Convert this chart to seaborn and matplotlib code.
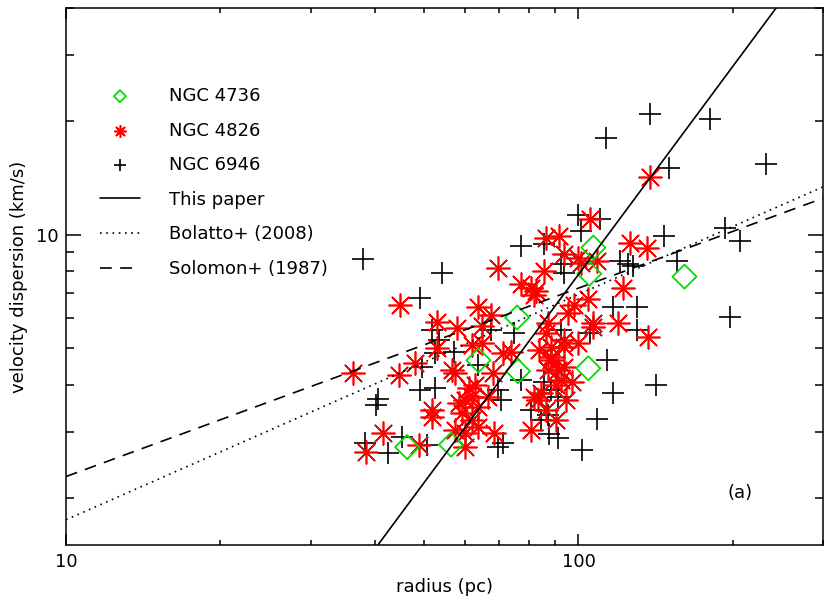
import matplotlib
matplotlib.use('Agg')
import matplotlib.pyplot as plt
import matplotlib.ticker as mticker
import seaborn as sns

# NGC 4736 (green diamonds)
n4736_r = [46.3, 56.4, 63.8, 75.9, 76.2, 104.5, 106.9, 105.0, 161.0]
n4736_s = [2.73, 2.77, 4.64, 6.03, 4.34, 4.42, 9.24, 7.88, 7.74]

# NGC 4826 (red asterisks)
n4826_r = [36.3, 38.5, 41.5, 44.9, 44.7, 48.0, 53.0, 53.0, 57.9, 63.8,
           67.6, 64.7, 61.9, 69.8, 80.8, 82.6, 93.6, 85.5, 56.6, 57.4,
           64.7, 71.3, 61.1, 62.7, 61.9, 51.8, 51.8, 48.9, 60.0, 68.5,
           80.8, 84.5, 87.1, 93.6, 88.3, 93.6, 99.6, 105.4, 86.3, 91.5,
           101.0, 108.9, 125.9, 135.9, 77.3, 81.9, 122.1, 104.5, 97.8, 106.9,
           95.2, 119.4, 137.6, 136.5, 68.2, 86.3, 83.7, 88.3, 87.1, 91.1,
           92.3, 81.9, 83.4, 97.3, 99.6, 106.9, 73.9, 88.3, 93.6, 60.0,
           59.2, 61.9, 63.8, 60.0, 57.4, 58.4, 63.8, 66.7, 90.3, 94.4,
           86.3, 90.3]
n4826_s = [4.29, 2.65, 2.98, 6.49, 4.24, 4.56, 5.85, 4.99, 5.64, 6.41,
           6.11, 5.74, 5.09, 8.18, 7.24, 7.11, 8.91, 8.03, 4.37, 4.29,
           5.15, 4.84, 3.92, 3.99, 3.71, 3.28, 3.42, 2.77, 2.73, 2.98,
           3.03, 3.80, 5.82, 5.25, 4.73, 4.45, 8.69, 11.0, 9.82, 9.94,
           8.43, 8.53, 9.52, 9.24, 7.42, 6.90, 7.24, 6.77, 6.49, 5.82,
           6.18, 5.82, 14.2, 5.34, 4.29, 5.47, 4.93, 4.64, 4.37, 4.37,
           4.11, 3.71, 3.64, 4.06, 5.15, 5.68, 4.87, 5.02, 5.02, 3.64,
           3.36, 3.22, 3.09, 2.98, 3.03, 3.57, 3.49, 3.71, 3.99, 3.64,
           3.42, 3.22]

# NGC 6946 (black plus)
n6946_r = [37.9, 54.2, 49.1, 138.2, 113.2, 180.6, 231.7, 149.9, 193.0, 207.0,
           197.4, 146.6, 99.6, 110.2, 120.4, 127.6, 116.9, 129.9, 101.4, 116.9,
           108.9, 91.1, 113.8, 141.4, 40.2, 40.6, 38.3, 42.4, 50.7, 49.1,
           52.5, 49.5, 52.5, 53.5, 51.8, 77.3, 85.5, 93.6, 57.1, 69.8,
           45.3, 69.8, 71.3, 101.0, 92.3, 124.9, 70.7, 87.1, 91.1, 74.9,
           67.6, 92.3, 105.4, 129.9, 85.5, 88.3, 156.0, 80.8, 84.5, 77.3,
           87.5, 63.8]
n6946_s = [8.64, 7.93, 6.81, 20.9, 18.1, 20.3, 15.4, 15.0, 10.4, 9.64,
           6.03, 9.94, 11.3, 11.0, 8.53, 8.28, 6.41, 6.41, 2.68, 3.80,
           3.24, 2.88, 4.64, 3.99, 3.53, 3.66, 2.80, 2.64, 2.77, 3.87,
           3.92, 4.45, 4.84, 5.25, 5.57, 9.35, 9.47, 7.93, 4.87, 3.87,
           2.90, 2.73, 2.80, 10.2, 8.38, 8.38, 3.64, 3.32, 3.71, 5.47,
           5.57, 5.57, 5.47, 5.57, 4.06, 3.87, 8.53, 3.42, 3.22, 4.11,
           2.95, 4.50]

# size-linewidth relations (end points)
this_r = [40.6, 243.0]
this_s = [1.5, 40.0]
bolatto_r = [10.0, 300.0]
bolatto_s = [1.75, 13.4]
solomon_r = [10.0, 300.0]
solomon_s = [2.28, 12.5]

sns.set_theme(style='ticks', rc={'axes.edgecolor': 'black', 'xtick.color': 'black',
                                 'ytick.color': 'black', 'text.color': 'black',
                                 'axes.labelcolor': 'black', 'axes.linewidth': 1.1,
                                 'lines.scale_dashes': False})
plt.rcParams['font.family'] = ['DejaVu Sans']

fig = plt.figure(figsize=(8.3, 6.04), dpi=100)
ax = fig.add_axes([66 / 830, 59 / 604, 757 / 830, 537 / 604])

sns.scatterplot(x=n6946_r, y=n6946_s, ax=ax, marker='+', s=256, color='black',
                linewidth=1.2, label='NGC 6946', zorder=2, legend=False)
sns.scatterplot(x=n4826_r, y=n4826_s, ax=ax, marker=(8, 2, 0), s=272, color='#ff0000',
                linewidth=1.2, label='NGC 4826', zorder=3, legend=False)
sns.scatterplot(x=n4736_r, y=n4736_s, ax=ax, marker='D', s=150, color='#00dd00',
                facecolor='none', edgecolor='#00dd00', linewidth=1.3,
                label='NGC 4736', zorder=4, legend=False)

sns.lineplot(x=this_r, y=this_s, ax=ax, color='black', lw=1.2, label='This paper',
             zorder=5, legend=False)
sns.lineplot(x=bolatto_r, y=bolatto_s, ax=ax, color='black', lw=1.2,
             linestyle=(0, (1.2, 3.3)), label='Bolatto+ (2008)', zorder=5, legend=False)
sns.lineplot(x=solomon_r, y=solomon_s, ax=ax, color='black', lw=1.2,
             linestyle=(0, (8.5, 6)), label='Solomon+ (1987)', zorder=5, legend=False)

ax.set_xscale('log')
ax.set_yscale('log')
ax.set_xlim(10, 300)
ax.set_ylim(1.5, 40)

for axis in (ax.xaxis, ax.yaxis):
    axis.set_major_locator(mticker.LogLocator(base=10))
    axis.set_minor_locator(mticker.LogLocator(base=10, subs=range(2, 10)))
    axis.set_major_formatter(mticker.FormatStrFormatter('%g'))
    axis.set_minor_formatter(mticker.NullFormatter())

ax.tick_params(which='both', direction='in', top=True, right=True, width=1.1,
               labelsize=13)
ax.tick_params(axis='x', which='major', length=7.7, pad=6)
ax.tick_params(axis='x', which='minor', length=3.9)
ax.tick_params(axis='y', which='major', length=11, pad=5)
ax.tick_params(axis='y', which='minor', length=5.5)

ax.set_xlabel('radius (pc)', fontsize=13, labelpad=5)
ax.set_ylabel('velocity dispersion (km/s)', fontsize=13, labelpad=6)

ax.text(0.890, 0.097, '(a)', transform=ax.transAxes, fontsize=13,
        ha='center', va='center')

handles, labels = ax.get_legend_handles_labels()
order = ['NGC 4736', 'NGC 4826', 'NGC 6946', 'This paper', 'Bolatto+ (2008)', 'Solomon+ (1987)']
hmap = dict(zip(labels, handles))
ax.legend([hmap[k] for k in order], order, loc='upper left',
          bbox_to_anchor=(0.045, 0.853), frameon=False, fontsize=13,
          markerscale=0.5, handlelength=2.2, handletextpad=1.6,
          labelspacing=0.92, borderpad=0, borderaxespad=0)

fig.savefig('out.png', dpi=100)
